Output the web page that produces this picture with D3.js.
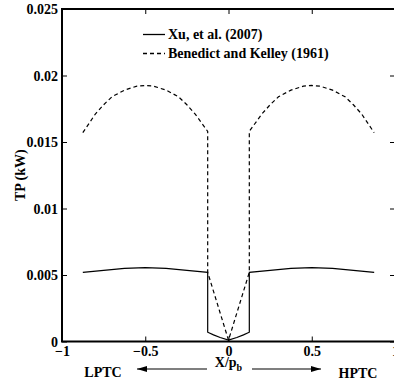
<!DOCTYPE html>
<html><head><meta charset="utf-8">
<script src="https://cdn.jsdelivr.net/npm/d3@7"></script>
<style>
body{margin:0;background:#fff;}
svg text{font-family:"Liberation Serif","Times New Roman",Times,serif !important;font-weight:bold;fill:#000;}
</style></head>
<body><svg id="c" width="394" height="383"></svg>
<script>
// Data
const xuX = [-0.875,-0.75,-0.625,-0.5,-0.375,-0.25,-0.125,-0.125,-0.09,-0.05,0,0.05,0.09,0.125,0.125,0.25,0.375,0.5,0.625,0.75,0.875];
const xuY = [0.0052,0.00535,0.0055,0.00555,0.0055,0.00535,0.0052,0.0007,0.0005,0.0003,0.0001,0.0003,0.0005,0.0007,0.0052,0.00535,0.0055,0.00555,0.0055,0.00535,0.0052];
const bkX = [-0.875,-0.8,-0.75,-0.7,-0.625,-0.55,-0.5,-0.45,-0.375,-0.3,-0.25,-0.2,-0.125,-0.125,0,0.125,0.125,0.2,0.25,0.3,0.375,0.45,0.5,0.55,0.625,0.7,0.75,0.8,0.875];
const bkY = [0.0157,0.0171,0.0178,0.0184,0.0189,0.0192,0.01925,0.0192,0.0189,0.0184,0.0178,0.0171,0.0158,0.0052,0.0001,0.0052,0.0158,0.0171,0.0178,0.0184,0.0189,0.0192,0.01925,0.0192,0.0189,0.0184,0.0178,0.0171,0.0157];
const xTicks = [-1,-0.5,0,0.5,1];
const yTicks = [0,0.005,0.01,0.015,0.02,0.025];
const xTickLabels = ["\u22121","\u22120.5","0","0.5","1"];
const yTickLabels = ["0","0.005","0.01","0.015","0.02","0.025"];
const seriesNames = ["Xu, et al. (2007)","Benedict and Kelley (1961)"];

const svg = d3.select("#c");
const L=62,R=395,T=9,B=341.5;
const x = d3.scaleLinear().domain([-1,1]).range([L,R]);
const y = d3.scaleLinear().domain([0,0.025]).range([B,T]);

const line = d3.line().x(d=>x(d[0])).y(d=>y(d[1]));
svg.append("path").datum(xuX.map((v,i)=>[v,xuY[i]])).attr("d",line)
  .attr("fill","none").attr("stroke","#000").attr("stroke-width",1.2);
svg.append("path").datum(bkX.map((v,i)=>[v,bkY[i]])).attr("d",line)
  .attr("fill","none").attr("stroke","#000").attr("stroke-width",1.2).attr("stroke-dasharray","4,3");

// Box
svg.append("rect").attr("x",L).attr("y",T).attr("width",R-L).attr("height",B-T)
  .attr("fill","none").attr("stroke","#000").attr("stroke-width",2);

// Axes (ticks inward)
const fs = 14;
const xb = svg.append("g").attr("transform",`translate(0,${B})`)
  .call(d3.axisBottom(x).tickValues(xTicks).tickSizeInner(-5).tickSizeOuter(0).tickFormat((d,i)=>xTickLabels[i]).tickPadding(5));
const xt = svg.append("g").attr("transform",`translate(0,${T})`)
  .call(d3.axisTop(x).tickValues(xTicks).tickSizeInner(-5).tickSizeOuter(0).tickFormat(""));
const yl = svg.append("g").attr("transform",`translate(${L},0)`)
  .call(d3.axisLeft(y).tickValues(yTicks).tickSizeInner(-5).tickSizeOuter(0).tickFormat((d,i)=>yTickLabels[i]).tickPadding(4));
const yr = svg.append("g").attr("transform",`translate(${R},0)`)
  .call(d3.axisRight(y).tickValues(yTicks).tickSizeInner(-5).tickSizeOuter(0).tickFormat(""));
[xb,xt,yl,yr].forEach(g=>{g.select(".domain").remove();g.attr("font-family",null);g.selectAll("line").attr("stroke","#000").attr("stroke-width",1);});
svg.selectAll(".tick text").attr("font-size",fs).attr("fill","#000");
yl.selectAll(".tick text").attr("dy","0.35em");

// Labels
svg.append("text").attr("transform",`translate(20,${(T+B)/2}) rotate(-90)`).attr("text-anchor","middle")
  .attr("dy","0.35em").attr("font-size",14).text("TP (kW)");
const xl = svg.append("text").attr("x",x(0)).attr("y",367).attr("text-anchor","middle").attr("font-size",14);
xl.append("tspan").text("X/p");
xl.append("tspan").attr("font-size",10).attr("dy",4).text("b");
svg.append("text").attr("x",103).attr("y",377).attr("text-anchor","middle").attr("font-size",14).text("LPTC");
svg.append("text").attr("x",358).attr("y",378).attr("text-anchor","middle").attr("font-size",14).text("HPTC");

// Arrows
svg.append("defs").append("marker").attr("id","ah").attr("viewBox","0 0 10 6").attr("refX",10).attr("refY",3)
  .attr("markerWidth",11).attr("markerHeight",6).attr("markerUnits","userSpaceOnUse").attr("orient","auto")
  .append("path").attr("d","M0,0L10,3L0,6Z").attr("fill","#000");
svg.append("line").attr("x1",207).attr("y1",369).attr("x2",137).attr("y2",369).attr("stroke","#000").attr("stroke-width",1.2).attr("marker-end","url(#ah)");
svg.append("line").attr("x1",252).attr("y1",369).attr("x2",321).attr("y2",369).attr("stroke","#000").attr("stroke-width",1.2).attr("marker-end","url(#ah)");

// Legend
const lg = svg.append("g");
lg.append("line").attr("x1",143).attr("x2",165).attr("y1",34.5).attr("y2",34.5).attr("stroke","#000").attr("stroke-width",1.3);
lg.append("line").attr("x1",143).attr("x2",165).attr("y1",53.5).attr("y2",53.5).attr("stroke","#000").attr("stroke-width",1.3).attr("stroke-dasharray","4,3");
lg.append("text").attr("x",168).attr("y",39).attr("font-size",14).text(seriesNames[0]);
lg.append("text").attr("x",168).attr("y",58).attr("font-size",14).text(seriesNames[1]);
</script></body></html>
